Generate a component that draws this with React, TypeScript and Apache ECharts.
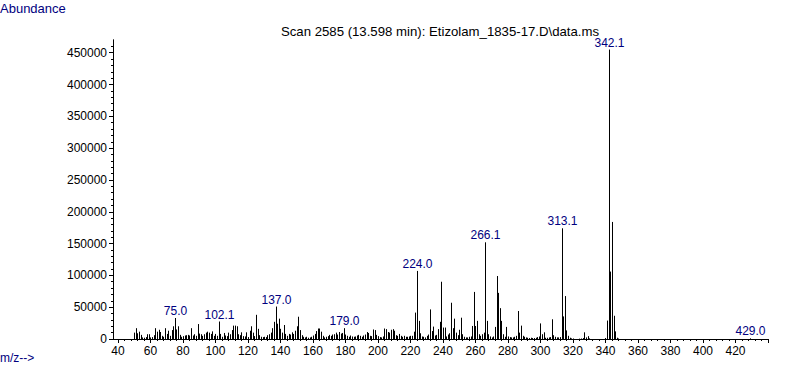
import React, { useEffect, useRef } from "react";
import * as echarts from "echarts";

// m/z, abundance pairs
const peaks050to099 = [
  [50, 10000], [51, 17000], [52, 9000], [53, 11500], [54, 6500], [55, 2500], [56, 2000], [57, 3000], [58, 7500], [59, 7500],
  [60, 2500], [61, 3000], [62, 6000], [63, 17000], [64, 11500], [65, 14500], [66, 11000], [67, 5000], [68, 3500], [69, 17000],
  [70, 8000], [71, 13000], [72, 5000], [73, 14000], [74, 20000], [75, 33000], [76, 15000], [77, 20000], [78, 6500], [79, 3500],
  [80, 4500], [81, 5500], [82, 6000], [83, 6500], [84, 5500], [85, 17000], [86, 5500], [87, 7500], [88, 5000], [89, 23500],
  [90, 8500], [91, 7500], [92, 5000], [93, 7500], [94, 10000], [95, 11500], [96, 10000], [97, 8000], [98, 12000], [99, 5000],
];
const peaks100to149 = [
  [100, 8000], [101, 5000], [102, 27500], [103, 8000], [104, 3500], [105, 9500], [106, 5500], [107, 4500], [108, 10000], [109, 7500],
  [110, 14000], [111, 21000], [112, 21000], [113, 20000], [114, 7500], [115, 6000], [116, 10500], [117, 4500], [118, 4000], [119, 10500],
  [120, 3000], [121, 13000], [122, 20000], [123, 10000], [124, 4500], [125, 38000], [126, 16000], [127, 6000], [128, 3500], [129, 3000],
  [130, 3500], [131, 3000], [132, 6000], [133, 7500], [134, 10000], [135, 17000], [136, 27000], [137, 51000], [138, 24000], [139, 32000],
  [140, 16000], [141, 10000], [142, 22000], [143, 8000], [144, 5000], [145, 8000], [146, 7000], [147, 10500], [148, 8000], [149, 13000],
];
const peaks150to199 = [
  [150, 20000], [151, 35000], [152, 14000], [153, 6000], [154, 3500], [155, 2500], [156, 3500], [157, 2000], [158, 2500], [159, 3500],
  [160, 5500], [161, 8000], [162, 12500], [163, 16500], [164, 16500], [165, 11500], [166, 5000], [167, 2500], [168, 3500], [169, 4500],
  [170, 6500], [171, 5000], [172, 7000], [173, 7500], [174, 10000], [175, 7000], [176, 11000], [177, 8500], [178, 9500], [179, 17000],
  [180, 7000], [181, 5000], [182, 3500], [183, 5500], [184, 4000], [185, 3500], [186, 4000], [187, 5500], [188, 6500], [189, 5000],
  [190, 3500], [191, 5500], [192, 7000], [193, 11000], [194, 9500], [195, 5000], [196, 4500], [197, 15000], [198, 14000], [199, 6500],
];
const peaks200to249 = [
  [200, 4500], [201, 3000], [202, 2500], [203, 4000], [204, 16500], [205, 15500], [206, 11000], [207, 10000], [208, 14500], [209, 15500],
  [210, 13000], [211, 6000], [212, 5000], [213, 8000], [214, 5000], [215, 3500], [216, 5000], [217, 3500], [218, 3500], [219, 4000],
  [220, 5000], [221, 5000], [222, 11500], [223, 41500], [224, 107000], [225, 28500], [226, 9000], [227, 4000], [228, 3500], [229, 2500],
  [230, 5000], [231, 7000], [232, 46500], [233, 12500], [234, 19500], [235, 5500], [236, 6500], [237, 15500], [238, 27000], [239, 90000],
  [240, 18000], [241, 18000], [242, 4000], [243, 7000], [244, 9000], [245, 57000], [246, 17000], [247, 32000], [248, 10000], [249, 6000],
];
const peaks250to299 = [
  [250, 14500], [251, 33500], [252, 7500], [253, 3500], [254, 2500], [255, 2500], [256, 3500], [257, 4000], [258, 20500], [259, 74000],
  [260, 20500], [261, 28500], [262, 7500], [263, 5000], [264, 7500], [265, 10000], [266, 152000], [267, 28500], [268, 7500], [269, 4000],
  [270, 2500], [271, 4000], [272, 19000], [273, 99000], [274, 72500], [275, 48500], [276, 28500], [277, 7500], [278, 3500], [279, 19000],
  [280, 4000], [281, 3000], [282, 2500], [283, 2500], [284, 3500], [285, 5000], [286, 44000], [287, 10000], [288, 21000], [289, 5000],
  [290, 3500], [291, 2500], [292, 2000], [293, 1500], [294, 2000], [295, 1500], [296, 1500], [297, 2000], [298, 3000], [299, 4000],
];
const peaks300to429 = [
  [300, 24500], [301, 7500], [302, 10500], [303, 2000], [304, 2000], [305, 2500], [306, 3000], [307, 31000], [308, 6000], [309, 3500],
  [310, 2500], [311, 2500], [312, 3000], [313, 174000], [314, 35500], [315, 67500], [316, 13500], [317, 5000], [318, 2000], [319, 1000],
  [320, 800], [324, 600], [325, 800], [326, 1500], [327, 10500], [328, 2500], [329, 4500], [330, 1000],
  [340, 1500], [341, 29000], [342, 455000], [343, 106000], [344, 184000], [345, 36500], [346, 12000], [347, 2000], [348, 800],
  [429, 1000],
];

const labeledMz = [75.0, 102.1, 137.0, 179.0, 224.0, 266.1, 313.1, 342.1, 429.0];

const xMajorTicks = [40, 60, 80, 100, 120, 140, 160, 180, 200, 220, 240, 260, 280, 300, 320, 340, 360, 380, 400, 420, 440];
const xTickLabels = [40, 60, 80, 100, 120, 140, 160, 180, 200, 220, 240, 260, 280, 300, 320, 340, 360, 380, 400, 420];
const yTickLabels = [0, 50000, 100000, 150000, 200000, 250000, 300000, 350000, 400000, 450000];

const xMin = 37;
const xMax = 440;
const yMax = 470000;

const titleText = "Scan 2585 (13.598 min): Etizolam_1835-17.D\\data.ms";
const FONT = "'Liberation Sans', Arial, sans-serif";
const NAVY = "#000080";

export default function App() {
  const ref = useRef<HTMLDivElement>(null);

  useEffect(() => {
    if (!ref.current) return;
    const chart = echarts.init(ref.current, undefined, { renderer: "svg" });

    const data = [
      ...peaks050to099,
      ...peaks100to149,
      ...peaks150to199,
      ...peaks200to249,
      ...peaks250to299,
      ...peaks300to429,
    ];

    const labelFor = (m: number) => {
      const hit = labeledMz.find((l) => Math.round(l) === m);
      return hit === undefined ? null : hit.toFixed(1);
    };

    const xMinor: number[] = [];
    for (let v = 40; v <= 440; v += 4) xMinor.push(v);
    const yMinor: number[] = [];
    for (let v = 0; v <= 460000; v += 10000) yMinor.push(v);

    const option: any = {
      animation: false,
      backgroundColor: "#ffffff",
      textStyle: { fontFamily: FONT },
      grid: { left: 113, right: 19, top: 40, bottom: 28, containLabel: false, outerBoundsMode: "none" },
      xAxis: [
        {
          type: "value",
          min: xMin,
          max: xMax,
          position: "bottom",
          axisLine: { show: true, lineStyle: { color: "#000", width: 1 } },
          axisTick: { show: true, length: 2, customValues: xMinor, lineStyle: { color: "#000" } },
          axisLabel: { show: false },
          splitLine: { show: false },
        },
        {
          type: "value",
          min: xMin,
          max: xMax,
          position: "bottom",
          axisLine: { show: true, lineStyle: { color: "#000", width: 1 } },
          axisTick: { show: true, length: 4, customValues: xMajorTicks, lineStyle: { color: "#000" } },
          axisLabel: {
            show: true,
            customValues: xTickLabels,
            color: "#000",
            fontSize: 12,
            fontFamily: FONT,
            margin: 6,
            formatter: (v: number) => String(v),
          },
          splitLine: { show: false },
        },
      ],
      yAxis: [
        {
          type: "value",
          min: 0,
          max: yMax,
          position: "left",
          axisLine: { show: true, lineStyle: { color: "#000", width: 1 } },
          axisTick: { show: true, length: 2, customValues: yMinor, lineStyle: { color: "#000" } },
          axisLabel: { show: false },
          splitLine: { show: false },
        },
        {
          type: "value",
          min: 0,
          max: yMax,
          position: "left",
          offset: 0,
          axisLine: { show: true, lineStyle: { color: "#000", width: 1 } },
          axisTick: { show: true, length: 4, customValues: yTickLabels, lineStyle: { color: "#000" } },
          axisLabel: {
            show: true,
            customValues: yTickLabels,
            color: "#000",
            fontSize: 12,
            fontFamily: FONT,
            margin: 6,
            formatter: (v: number) => String(v),
          },
          splitLine: { show: false },
        },
      ],
      graphic: [
        {
          type: "text",
          left: 0,
          top: 2,
          style: { text: "Abundance", fill: NAVY, fontSize: 13, fontFamily: FONT },
        },
        {
          type: "text",
          left: 0,
          top: 352,
          style: { text: "m/z-->", fill: NAVY, fontSize: 12, fontFamily: FONT },
        },
        {
          type: "text",
          x: 440,
          y: 31,
          style: { text: titleText, fill: "#000", fontSize: 13.2, fontFamily: FONT, align: "center", verticalAlign: "middle" },
        },
      ],
      series: [
        {
          type: "custom",
          xAxisIndex: 0,
          yAxisIndex: 0,
          data,
          encode: { x: 0, y: 1 },
          renderItem: (params: any, api: any) => {
            const m = api.value(0);
            const a = api.value(1);
            const top = api.coord([m, a]);
            const base = api.coord([m, 0]);
            const x = Math.round(base[0]) + 0.5;
            const children: any[] = [
              {
                type: "line",
                shape: { x1: x, y1: base[1], x2: x, y2: top[1] },
                style: { stroke: "#000", lineWidth: 1 },
              },
            ];
            const lab = labelFor(m);
            if (lab) {
              children.push({
                type: "text",
                style: {
                  text: lab,
                  x: x,
                  y: top[1] - 1,
                  align: "center",
                  verticalAlign: "bottom",
                  fill: NAVY,
                  fontSize: 12,
                  fontFamily: FONT,
                },
              });
            }
            return { type: "group", children };
          },
        },
      ],
    };

    chart.setOption(option);
    return () => chart.dispose();
  }, []);

  return (
    <div
      ref={ref}
      style={{ position: "fixed", left: 0, top: 0, width: 787, height: 367, background: "#fff" }}
    />
  );
}
